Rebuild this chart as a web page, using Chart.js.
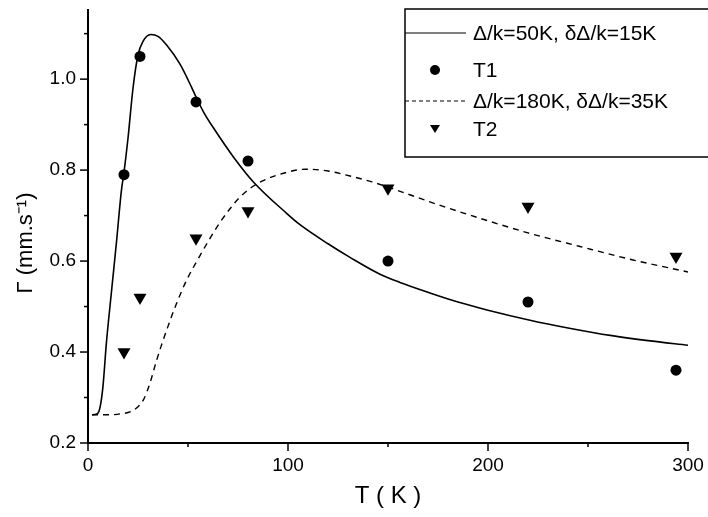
<!DOCTYPE html>
<html>
<head>
<meta charset="utf-8">
<script src="https://cdn.jsdelivr.net/npm/chart.js@4.4.0/dist/chart.umd.min.js"></script>
<style>
  html, body { margin: 0; padding: 0; background: #fff; }
  #wrap { width: 708px; height: 517px; }
</style>
</head>
<body>
<div id="wrap"><canvas id="grafico" width="708" height="517"></canvas></div>
<script>
// datos
const etiquetas = ['Δ/k=50K, δΔ/k=15K', 'T1', 'Δ/k=180K, δΔ/k=35K', 'T2'];

// puntos medidos (T en K)
const tempMedida = [18, 26, 54, 80, 150, 220, 294];
const gammaT1 = [0.79, 1.05, 0.95, 0.82, 0.60, 0.51, 0.36];
const gammaT2 = [0.40, 0.52, 0.65, 0.71, 0.76, 0.72, 0.61];

// curva continua (ajuste 1)
const tempAjuste1 = [2, 4, 5.5, 6.5, 7.5, 9.2, 11.7, 14.2, 16.7, 18, 20, 22.5, 25, 27.5, 31.5, 35, 39.3, 46, 51.8, 54.3, 58, 62.7, 72.7, 82.7, 99.3, 106, 120, 131, 146, 156, 171, 185, 200, 221, 240, 262, 280, 300];
const gammaAjuste1 = [0.262, 0.263, 0.27, 0.29, 0.325, 0.42, 0.531, 0.64, 0.755, 0.795, 0.87, 0.98, 1.053, 1.083, 1.098, 1.094, 1.075, 1.033, 0.982, 0.958, 0.926, 0.893, 0.829, 0.774, 0.705, 0.68, 0.638, 0.608, 0.571, 0.553, 0.53, 0.51, 0.492, 0.47, 0.453, 0.436, 0.425, 0.415];

// curva discontinua (ajuste 2)
const tempAjuste2 = [2, 10, 16, 22.7, 27.7, 31, 34.3, 39.3, 44.3, 49.3, 56, 61, 66, 71, 76, 85, 97.7, 109, 120, 131, 142, 153, 175, 196, 220, 246, 272, 300];
const gammaAjuste2 = [0.262, 0.262, 0.264, 0.272, 0.295, 0.332, 0.382, 0.448, 0.507, 0.558, 0.612, 0.65, 0.685, 0.715, 0.741, 0.771, 0.793, 0.802, 0.798, 0.787, 0.774, 0.758, 0.724, 0.694, 0.662, 0.632, 0.603, 0.576];

const FUENTE = "'Liberation Sans', Arial, sans-serif";

const aPuntos = (xs, ys) => xs.map((x, i) => ({ x: x, y: ys[i] }));

// marcas de los ejes (mayores y menores)
const marcasEjes = {
  id: 'marcasEjes',
  afterDraw(chart) {
    const ctx = chart.ctx;
    const area = chart.chartArea;
    const sx = chart.scales.x;
    const sy = chart.scales.y;
    ctx.save();
    ctx.strokeStyle = '#000';
    ctx.lineWidth = 1.5;
    sx.ticks.forEach((t) => {
      const px = sx.getPixelForValue(t.value);
      const largo = Math.round(t.value) % 100 === 0 ? 8 : 4;
      ctx.beginPath();
      ctx.moveTo(px, area.bottom);
      ctx.lineTo(px, area.bottom + largo);
      ctx.stroke();
    });
    sy.ticks.forEach((t) => {
      const py = sy.getPixelForValue(t.value);
      const largo = Math.round(t.value * 10) % 2 === 0 ? 8 : 4;
      ctx.beginPath();
      ctx.moveTo(area.left, py);
      ctx.lineTo(area.left - largo, py);
      ctx.stroke();
    });
    ctx.restore();
  }
};

// titulo del eje y (con superindice)
const tituloY = {
  id: 'tituloY',
  afterDraw(chart) {
    const ctx = chart.ctx;
    ctx.save();
    ctx.translate(26, 243);
    ctx.rotate(-Math.PI / 2);
    ctx.fillStyle = '#000';
    ctx.font = '22px ' + FUENTE;
    ctx.textAlign = 'center';
    ctx.textBaseline = 'middle';
    ctx.fillText('Γ (mm.s⁻¹)', 0, 0);
    ctx.restore();
  }
};

// leyenda con caja dentro del area
const leyendaCaja = {
  id: 'leyendaCaja',
  afterDraw(chart) {
    const ctx = chart.ctx;
    const x0 = 405, y0 = 9;
    const filas = [33, 70, 101, 129];
    ctx.save();
    ctx.fillStyle = '#fff';
    ctx.fillRect(x0, y0, 310, 148);
    ctx.strokeStyle = '#000';
    ctx.lineWidth = 1.5;
    ctx.strokeRect(x0, y0, 310, 148);
    chart.data.datasets.forEach((ds, i) => {
      const y = filas[i];
      ctx.fillStyle = '#000';
      ctx.strokeStyle = '#000';
      if (ds.showLine) {
        ctx.lineWidth = 1.2;
        ctx.setLineDash(ds.borderDash ? [4, 3] : []);
        ctx.beginPath();
        ctx.moveTo(x0, y);
        ctx.lineTo(x0 + 61, y);
        ctx.stroke();
        ctx.setLineDash([]);
      } else if (ds.pointStyle === 'circle') {
        ctx.beginPath();
        ctx.arc(x0 + 30, y, 5, 0, Math.PI * 2);
        ctx.fill();
      } else {
        ctx.beginPath();
        ctx.moveTo(x0 + 25, y - 4);
        ctx.lineTo(x0 + 35, y - 4);
        ctx.lineTo(x0 + 30, y + 4);
        ctx.closePath();
        ctx.fill();
      }
      ctx.font = '21px ' + FUENTE;
      ctx.textAlign = 'left';
      ctx.textBaseline = 'middle';
      ctx.fillText(ds.label, x0 + 68, y + 1);
    });
    ctx.restore();
  }
};

const ctx = document.getElementById('grafico').getContext('2d');

const grafico = new Chart(ctx, {
  type: 'scatter',
  data: {
    datasets: [
      {
        label: etiquetas[0],
        data: aPuntos(tempAjuste1, gammaAjuste1),
        showLine: true,
        borderColor: '#000',
        borderWidth: 1.6,
        pointRadius: 0,
        cubicInterpolationMode: 'monotone'
      },
      {
        label: etiquetas[1],
        data: aPuntos(tempMedida, gammaT1),
        pointStyle: 'circle',
        pointRadius: 5.5,
        backgroundColor: '#000',
        borderColor: '#000',
        borderWidth: 0
      },
      {
        label: etiquetas[2],
        data: aPuntos(tempAjuste2, gammaAjuste2),
        showLine: true,
        borderColor: '#000',
        borderWidth: 1.4,
        borderDash: [6, 5],
        pointRadius: 0,
        cubicInterpolationMode: 'monotone'
      },
      {
        label: etiquetas[3],
        data: aPuntos(tempMedida, gammaT2),
        pointStyle: 'triangle',
        rotation: 180,
        pointRadius: 7.5,
        backgroundColor: '#000',
        borderColor: '#000',
        borderWidth: 0
      }
    ]
  },
  options: {
    responsive: false,
    animation: false,
    devicePixelRatio: 1,
    layout: { padding: { top: 10, right: 20, left: 0, bottom: 0 } },
    plugins: {
      legend: { display: false },
      tooltip: { enabled: false }
    },
    scales: {
      x: {
        type: 'linear',
        min: 0,
        max: 300,
        afterFit: (s) => { s.height = 74; s.paddingLeft = 0; s.paddingRight = 0; },
        grid: { display: false, drawTicks: false },
        border: { display: true, color: '#000', width: 2 },
        ticks: {
          stepSize: 50,
          autoSkip: false,
          maxRotation: 0,
          padding: 11,
          color: '#000',
          font: { family: FUENTE, size: 19 },
          callback: (v) => (Math.round(v) % 100 === 0 ? String(v) : '')
        },
        title: {
          display: true,
          text: 'T ( K )',
          color: '#000',
          font: { family: FUENTE, size: 24 },
          padding: { top: 0, bottom: 6 }
        }
      },
      y: {
        type: 'linear',
        min: 0.2,
        max: 1.152,
        afterFit: (s) => { s.width = 88; s.paddingTop = 0; s.paddingBottom = 0; },
        grid: { display: false, drawTicks: false },
        border: { display: true, color: '#000', width: 2 },
        ticks: {
          stepSize: 0.1,
          includeBounds: false,
          autoSkip: false,
          padding: 12,
          color: '#000',
          font: { family: FUENTE, size: 19 },
          callback: (v) => (Math.round(v * 10) % 2 === 0 ? v.toFixed(1) : '')
        }
      }
    }
  },
  plugins: [marcasEjes, tituloY, leyendaCaja]
});
</script>
</body>
</html>
